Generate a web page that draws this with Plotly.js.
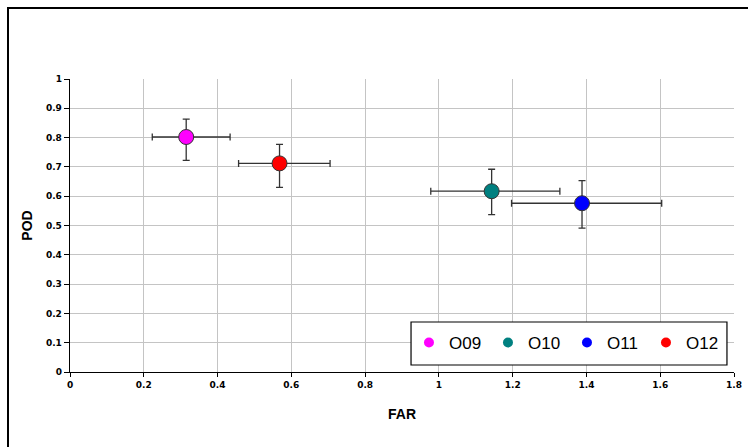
<!DOCTYPE html>
<html>
<head>
<meta charset="utf-8">
<script src="https://cdn.plot.ly/plotly-3.0.1.min.js"></script>
<style>
html,body{margin:0;padding:0;background:#fff;}
#wrap{position:relative;width:748px;height:447px;}
#chart{width:748px;height:447px;}
#frame{position:absolute;left:7px;top:7px;width:760px;height:460px;border-left:2px solid #000;border-top:2px solid #000;pointer-events:none;}
</style>
</head>
<body>
<div id="wrap"><div id="chart"></div><div id="frame"></div></div>
<script>
const names = ['O09','O10','O11','O12'];
const colors = ['#ff00ff','#008080','#0000ff','#ff0000'];
const far = [0.315, 1.143, 1.388, 0.568];
const pod = [0.802, 0.617, 0.576, 0.712];
const farErrPlus  = [0.119, 0.185, 0.216, 0.137];
const farErrMinus = [0.092, 0.165, 0.191, 0.111];
const podErrPlus  = [0.061, 0.075, 0.077, 0.065];
const podErrMinus = [0.080, 0.080, 0.085, 0.082];
const xTicks = [0,0.2,0.4,0.6,0.8,1,1.2,1.4,1.6,1.8];
const yTicks = [0,0.1,0.2,0.3,0.4,0.5,0.6,0.7,0.8,0.9,1];

const traces = [];
names.forEach((n,i)=>{
  traces.push({
    type:'scatter', mode:'markers', x:[far[i]], y:[pod[i]], name:n, showlegend:false,
    marker:{size:15, color:colors[i], line:{color:'#333', width:1}},
    error_x:{type:'data', symmetric:false, array:[farErrPlus[i]], arrayminus:[farErrMinus[i]], color:'#333', thickness:1.3, width:3.5},
    error_y:{type:'data', symmetric:false, array:[podErrPlus[i]], arrayminus:[podErrMinus[i]], color:'#333', thickness:1.3, width:3.5}
  });
});
names.forEach((n,i)=>{
  traces.push({
    type:'scatter', mode:'markers', x:[null], y:[null], name:n, showlegend:true,
    marker:{size:10, color:colors[i]}
  });
});

const tickFont = {family:'DejaVu Sans', size:9, color:'#000', weight:'bold'};
const titleFont = {family:'Liberation Sans', size:14, color:'#000', weight:'bold'};
const layout = {
  width:748, height:447,
  margin:{l:70, r:14, t:79, b:75},
  paper_bgcolor:'#fff', plot_bgcolor:'#fff',
  showlegend:true,
  legend:{orientation:'h', x:0.5105, xanchor:'left', y:0.099, yanchor:'middle',
    bgcolor:'rgba(0,0,0,0)', borderwidth:0,
    font:{family:'Liberation Sans', size:17, color:'#000'},
    itemwidth:30, tracegroupgap:0, entrywidth:34},
  shapes:[{type:'rect', xref:'paper', yref:'paper', x0:0.5136, x1:0.9894, y0:0.0239, y1:0.1706,
    fillcolor:'#fff', line:{color:'#000', width:1.2}, layer:'above'}],
  xaxis:{range:[0,1.8], tickvals:xTicks, ticktext:xTicks.map(String),
    showgrid:true, gridcolor:'#c4c4c4', gridwidth:1, zeroline:false,
    showline:true, linecolor:'#000', linewidth:1.3, ticks:'outside', ticklen:4, tickcolor:'#000',
    tickfont:tickFont,
    title:{text:'FAR', font:titleFont, standoff:20}},
  yaxis:{range:[0,1], tickvals:yTicks, ticktext:yTicks.map(String),
    showgrid:true, gridcolor:'#c4c4c4', gridwidth:1, zeroline:false,
    showline:true, linecolor:'#000', linewidth:1.3, ticks:'outside', ticklen:5, tickcolor:'#000',
    tickfont:tickFont,
    title:{text:'POD', font:titleFont, standoff:10}}
};
Plotly.newPlot('chart', traces, layout, {displayModeBar:false, staticPlot:true});
</script>
</body>
</html>
